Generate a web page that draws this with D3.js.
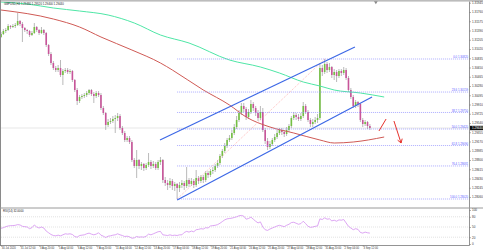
<!DOCTYPE html>
<html>
<head>
<meta charset="utf-8">
<script src="https://cdn.jsdelivr.net/npm/d3@7"></script>
<style>
  html, body { margin: 0; padding: 0; background: #fff; }
  svg { display: block; font-family: "Liberation Sans", Arial, sans-serif; }
</style>
</head>
<body>
<div id="chart"></div>
<script>
const symbol = 'GBPUSD,H4';

// H4 candles, one entry per bar
const opens = [
  1.3126, 1.3132, 1.3138, 1.3140, 1.3148, 1.3146, 1.3148, 1.3150, 1.3158, 1.3152,
  1.3144, 1.3140, 1.3138, 1.3130, 1.3134, 1.3146, 1.3140, 1.3134, 1.3140, 1.3134,
  1.3110, 1.3092, 1.3074, 1.3064, 1.3060, 1.3064, 1.3050, 1.3058, 1.3060, 1.3056,
  1.3058, 1.3040, 1.3020, 1.2998, 1.3006, 1.3008, 1.3010, 1.3014, 1.3020, 1.3012,
  1.3008, 1.3014, 1.3010, 1.2984, 1.2974, 1.2950, 1.2956, 1.2958, 1.2962, 1.2964,
  1.2968, 1.2944, 1.2934, 1.2920, 1.2924, 1.2916, 1.2880, 1.2868, 1.2880, 1.2868,
  1.2872, 1.2864, 1.2870, 1.2876, 1.2868, 1.2872, 1.2864, 1.2876, 1.2880, 1.2840,
  1.2834, 1.2830, 1.2838, 1.2828, 1.2832, 1.2824, 1.2830, 1.2834, 1.2828, 1.2840,
  1.2832, 1.2838, 1.2830, 1.2844, 1.2838, 1.2846, 1.2840, 1.2854, 1.2850, 1.2858,
  1.2860, 1.2868, 1.2874, 1.2888, 1.2898, 1.2908, 1.2920, 1.2924, 1.2934, 1.2946,
  1.2960, 1.2974, 1.2988, 1.2982, 1.2966, 1.2976, 1.2992, 1.2984, 1.2974, 1.2964,
  1.2976, 1.2940, 1.2918, 1.2906, 1.2912, 1.2920, 1.2926, 1.2934, 1.2940, 1.2936,
  1.2932, 1.2940, 1.2948, 1.2964, 1.2970, 1.2966, 1.2962, 1.2968, 1.2988, 1.2976,
  1.2960, 1.2952, 1.2956, 1.2960, 1.2964, 1.3064, 1.3056, 1.3072, 1.3060, 1.3066,
  1.3050, 1.3056, 1.3048, 1.3058, 1.3054, 1.3060, 1.3044, 1.3020, 1.3006, 1.2988,
  1.2996, 1.2992, 1.2960, 1.2952, 1.2956, 1.2948
];
const highs = [
  1.3136, 1.3142, 1.3144, 1.3152, 1.3150, 1.3152, 1.3154, 1.3174, 1.3160, 1.3156,
  1.3146, 1.3142, 1.3140, 1.3138, 1.3154, 1.3148, 1.3142, 1.3146, 1.3142, 1.3136,
  1.3112, 1.3096, 1.3078, 1.3068, 1.3070, 1.3080, 1.3062, 1.3064, 1.3064, 1.3062,
  1.3060, 1.3042, 1.3024, 1.3010, 1.3012, 1.3014, 1.3018, 1.3022, 1.3022, 1.3016,
  1.3018, 1.3018, 1.3014, 1.2988, 1.2976, 1.2962, 1.2964, 1.2968, 1.2970, 1.2974,
  1.2972, 1.2948, 1.2938, 1.2928, 1.2928, 1.2920, 1.2884, 1.2900, 1.2882, 1.2876,
  1.2874, 1.2874, 1.2894, 1.2880, 1.2878, 1.2876, 1.2880, 1.2886, 1.2882, 1.2846,
  1.2840, 1.2844, 1.2842, 1.2836, 1.2834, 1.2836, 1.2840, 1.2838, 1.2866, 1.2844,
  1.2844, 1.2842, 1.2860, 1.2848, 1.2850, 1.2850, 1.2858, 1.2858, 1.2862, 1.2866,
  1.2872, 1.2880, 1.2892, 1.2902, 1.2914, 1.2924, 1.2930, 1.2940, 1.2952, 1.2968,
  1.2980, 1.2994, 1.2994, 1.2986, 1.2982, 1.3000, 1.2996, 1.2988, 1.2980, 1.2988,
  1.2984, 1.2944, 1.2924, 1.2918, 1.2924, 1.2932, 1.2940, 1.2944, 1.2944, 1.2940,
  1.2946, 1.2952, 1.2968, 1.2976, 1.2974, 1.2972, 1.2974, 1.2996, 1.2992, 1.2980,
  1.2964, 1.2962, 1.2966, 1.2972, 1.3074, 1.3070, 1.3082, 1.3076, 1.3074, 1.3068,
  1.3062, 1.3060, 1.3062, 1.3062, 1.3066, 1.3064, 1.3048, 1.3024, 1.3010, 1.3000,
  1.2998, 1.2994, 1.2964, 1.2960, 1.2958, 1.2952
];
const lows = [
  1.3124, 1.3130, 1.3134, 1.3138, 1.3142, 1.3144, 1.3144, 1.3148, 1.3148, 1.3116,
  1.3136, 1.3132, 1.3126, 1.3128, 1.3132, 1.3136, 1.3130, 1.3132, 1.3130, 1.3106,
  1.3088, 1.3070, 1.3060, 1.3056, 1.3056, 1.3046, 1.3030, 1.3054, 1.3052, 1.3052,
  1.3036, 1.3016, 1.2990, 1.2994, 1.3002, 1.3004, 1.3006, 1.3010, 1.3008, 1.2994,
  1.3004, 1.3006, 1.2980, 1.2970, 1.2940, 1.2946, 1.2952, 1.2954, 1.2934, 1.2958,
  1.2940, 1.2930, 1.2916, 1.2916, 1.2912, 1.2876, 1.2864, 1.2844, 1.2862, 1.2860,
  1.2858, 1.2860, 1.2866, 1.2862, 1.2864, 1.2860, 1.2860, 1.2870, 1.2834, 1.2828,
  1.2820, 1.2824, 1.2820, 1.2818, 1.2802, 1.2816, 1.2824, 1.2820, 1.2824, 1.2826,
  1.2828, 1.2824, 1.2826, 1.2832, 1.2834, 1.2834, 1.2836, 1.2844, 1.2846, 1.2852,
  1.2856, 1.2864, 1.2870, 1.2884, 1.2894, 1.2904, 1.2916, 1.2920, 1.2930, 1.2942,
  1.2956, 1.2970, 1.2976, 1.2960, 1.2962, 1.2972, 1.2978, 1.2968, 1.2958, 1.2960,
  1.2936, 1.2912, 1.2900, 1.2902, 1.2908, 1.2916, 1.2922, 1.2930, 1.2930, 1.2926,
  1.2928, 1.2936, 1.2944, 1.2960, 1.2960, 1.2958, 1.2958, 1.2964, 1.2972, 1.2956,
  1.2946, 1.2946, 1.2952, 1.2954, 1.2960, 1.3048, 1.3052, 1.3054, 1.3056, 1.3044,
  1.3040, 1.3036, 1.3044, 1.3048, 1.3050, 1.3040, 1.3016, 1.3002, 1.2984, 1.2984,
  1.2986, 1.2956, 1.2946, 1.2948, 1.2942, 1.2940
];
const closes = [
  1.3132, 1.3138, 1.3140, 1.3148, 1.3146, 1.3148, 1.3150, 1.3158, 1.3152, 1.3144,
  1.3140, 1.3138, 1.3130, 1.3134, 1.3146, 1.3140, 1.3134, 1.3140, 1.3134, 1.3110,
  1.3092, 1.3074, 1.3064, 1.3060, 1.3064, 1.3050, 1.3058, 1.3060, 1.3056, 1.3058,
  1.3040, 1.3020, 1.2998, 1.3006, 1.3008, 1.3010, 1.3014, 1.3020, 1.3012, 1.3008,
  1.3014, 1.3010, 1.2984, 1.2974, 1.2950, 1.2956, 1.2958, 1.2962, 1.2964, 1.2968,
  1.2944, 1.2934, 1.2920, 1.2924, 1.2916, 1.2880, 1.2868, 1.2880, 1.2868, 1.2872,
  1.2864, 1.2870, 1.2876, 1.2868, 1.2872, 1.2864, 1.2876, 1.2880, 1.2840, 1.2834,
  1.2830, 1.2838, 1.2828, 1.2832, 1.2824, 1.2830, 1.2834, 1.2828, 1.2840, 1.2832,
  1.2838, 1.2830, 1.2844, 1.2838, 1.2846, 1.2840, 1.2854, 1.2850, 1.2858, 1.2860,
  1.2868, 1.2874, 1.2888, 1.2898, 1.2908, 1.2920, 1.2924, 1.2934, 1.2946, 1.2960,
  1.2974, 1.2988, 1.2982, 1.2966, 1.2976, 1.2992, 1.2984, 1.2974, 1.2964, 1.2976,
  1.2940, 1.2918, 1.2906, 1.2912, 1.2920, 1.2926, 1.2934, 1.2940, 1.2936, 1.2932,
  1.2940, 1.2948, 1.2964, 1.2970, 1.2966, 1.2962, 1.2968, 1.2988, 1.2976, 1.2960,
  1.2952, 1.2956, 1.2960, 1.2964, 1.3064, 1.3056, 1.3072, 1.3060, 1.3066, 1.3050,
  1.3056, 1.3048, 1.3058, 1.3054, 1.3060, 1.3044, 1.3020, 1.3006, 1.2988, 1.2996,
  1.2992, 1.2960, 1.2952, 1.2956, 1.2948, 1.2944
];

// RSI(14), one value per bar
const rsi = [
  46, 48, 51, 53, 54, 54, 55, 57, 56, 52,
  51, 50, 45, 48, 56, 50, 47, 50, 47, 38,
  33, 28, 25, 24, 26, 24, 27, 30, 29, 30,
  28, 22, 20, 25, 26, 27, 30, 32, 29, 27,
  29, 33, 26, 23, 19, 23, 24, 26, 27, 30,
  27, 25, 22, 23, 21, 17, 18, 22, 20, 21,
  20, 23, 29, 27, 30, 33, 36, 37, 27, 26,
  25, 27, 25, 26, 25, 27, 27, 34, 37, 35,
  38, 36, 42, 43, 45, 44, 48, 47, 53, 54,
  55, 57, 61, 66, 71, 74, 75, 76, 78, 80,
  83, 84, 82, 73, 75, 79, 73, 67, 62, 65,
  50, 42, 40, 44, 47, 50, 53, 55, 53, 51,
  55, 58, 63, 64, 61, 58, 60, 67, 60, 52,
  49, 50, 52, 53, 74, 72, 77, 73, 74, 68,
  70, 67, 71, 70, 72, 62, 52, 47, 42, 45,
  43, 34, 32, 35, 33, 32
];

// moving averages (bar index, value), drawn shifted past the last bar
const ma200Bars = [0, 11, 22, 33, 45, 56, 67, 79, 96, 109, 117, 127, 134, 140, 151, 161];
const ma200 = [1.3196, 1.3192, 1.3184, 1.3178, 1.3170, 1.3154, 1.3130, 1.3114, 1.3080, 1.3066, 1.3054, 1.3036, 1.3028, 1.3020, 1.3014, 1.3006];
const ma100Bars = [0, 22, 33, 42, 55, 67, 72, 85, 96, 103, 113, 123, 134, 140, 148, 161];
const ma100 = [1.3180, 1.3162, 1.3146, 1.3126, 1.3100, 1.3074, 1.3060, 1.3020, 1.2990, 1.2966, 1.2946, 1.2934, 1.2920, 1.2914, 1.2916, 1.2926];

// drawn objects
const channelUpper = [[66.8, 1.2920], [148.7, 1.3106]];
const channelLower = [[74, 1.2800], [155.9, 1.3006]];
const fibLowBar = 74, fibLow = 1.2802;
const fibHighBar = 136, fibHigh = 1.3082;
const fibRatios = [0, 23.6, 38.2, 50, 61.8, 76.4, 100];
const arrowUp = [[158.8, 1.2938], [161.8, 1.2962]];
const arrowDown = [[165.1, 1.2958], [168.1, 1.2914]];

// axis labels
const priceTicks = [1.31945, 1.31760, 1.31575, 1.31390, 1.31205, 1.31020, 1.30835, 1.30650,
  1.30465, 1.30280, 1.30095, 1.29910, 1.29725, 1.29540, 1.29355, 1.29170, 1.28985, 1.28800,
  1.28615, 1.28430, 1.28245, 1.28060];
const rsiTicks = [100, 80, 50, 20, 0];
const rsiLevels = [80, 50, 20];
const timeLabels = ['30 Jul 2020', '31 Jul 12:00', '3 Aug 20:00', '5 Aug 04:00', '6 Aug 12:00',
  '7 Aug 20:00', '11 Aug 04:00', '12 Aug 12:00', '13 Aug 20:00', '17 Aug 04:00', '18 Aug 12:00',
  '19 Aug 20:00', '21 Aug 04:00', '24 Aug 12:00', '25 Aug 20:00', '27 Aug 04:00', '28 Aug 12:00',
  '31 Aug 20:00', '2 Sep 04:00', '3 Sep 12:00'];
const barsPerLabel = 8;

// ---- layout
const W = 483, H = 252;
const plotL = 1, plotR = 469.5;
const mainTop = 1.6, mainBottom = 207.5;
const rsiTop = 208.6, rsiBottom = 245.5;
const barStep = 2.38;

const x = d3.scaleLinear().domain([0, (plotR - plotL) / barStep]).range([plotL, plotR]);
const y = d3.scaleLinear().domain([1.2785, 1.3200]).range([mainBottom, 0]);
const yR = d3.scaleLinear().domain([0, 100]).range([244, 210]);

const svg = d3.select('#chart').append('svg')
  .attr('width', W)
  .attr('height', H);

svg.append('rect').attr('width', W).attr('height', H).attr('fill', '#fff');

const defs = svg.append('defs');
defs.append('clipPath').attr('id', 'clipMain').append('rect')
  .attr('x', plotL).attr('y', mainTop).attr('width', plotR - plotL).attr('height', mainBottom - mainTop);
defs.append('clipPath').attr('id', 'clipRsi').append('rect')
  .attr('x', plotL).attr('y', rsiTop).attr('width', plotR - plotL).attr('height', rsiBottom - rsiTop);

const main = svg.append('g').attr('clip-path', 'url(#clipMain)');

// current bid line
const last = closes.length - 1;
main.append('line')
  .attr('x1', plotL).attr('x2', plotR)
  .attr('y1', y(closes[last])).attr('y2', y(closes[last]))
  .attr('stroke', '#d6d6d6').attr('stroke-width', 0.6);

// candles
const bars = main.append('g').selectAll('g')
  .data(closes.map((c, i) => ({ i, o: opens[i], h: highs[i], l: lows[i], c })))
  .enter().append('g');

bars.append('line')
  .attr('x1', d => x(d.i)).attr('x2', d => x(d.i))
  .attr('y1', d => y(d.h)).attr('y2', d => y(d.l))
  .attr('stroke', '#8c8c8c').attr('stroke-width', 0.6);

bars.append('rect')
  .attr('x', d => x(d.i) - 0.8)
  .attr('width', 1.6)
  .attr('y', d => y(Math.max(d.o, d.c)))
  .attr('height', d => Math.max(0.6, Math.abs(y(d.o) - y(d.c))))
  .attr('fill', d => d.c >= d.o ? '#74c043' : '#c8559a');

// moving averages
const maLine = d3.line().x(d => x(d[0])).y(d => y(d[1])).curve(d3.curveMonotoneX);
main.append('path')
  .attr('d', maLine(ma200Bars.map((b, k) => [b, ma200[k]])))
  .attr('fill', 'none').attr('stroke', '#4fe6a6').attr('stroke-width', 1);
main.append('path')
  .attr('d', maLine(ma100Bars.map((b, k) => [b, ma100[k]])))
  .attr('fill', 'none').attr('stroke', '#cf5a55').attr('stroke-width', 1);

// fibonacci retracement
main.append('line')
  .attr('x1', x(fibLowBar)).attr('y1', y(fibLow))
  .attr('x2', x(fibHighBar)).attr('y2', y(fibHigh))
  .attr('stroke', '#ff9c9c').attr('stroke-width', 0.7).attr('stroke-dasharray', '1,1.2');

const fib = main.append('g').selectAll('g')
  .data(fibRatios.map(r => ({ r, p: fibHigh - r / 100 * (fibHigh - fibLow) })))
  .enter().append('g');

fib.append('line')
  .attr('x1', x(fibLowBar)).attr('x2', plotR)
  .attr('y1', d => y(d.p)).attr('y2', d => y(d.p))
  .attr('stroke', '#8a8aff').attr('stroke-width', 0.7).attr('stroke-dasharray', '1,1');

fib.append('text')
  .attr('x', plotR - 1.5)
  .attr('y', d => y(d.p) - 0.6)
  .attr('text-anchor', 'end')
  .attr('font-size', '2.8px')
  .attr('fill', '#5a5aff')
  .text(d => d.r.toFixed(1) + ' ' + d.p.toFixed(5));

// channel
[channelUpper, channelLower].forEach(seg => {
  main.append('line')
    .attr('x1', x(seg[0][0])).attr('y1', y(seg[0][1]))
    .attr('x2', x(seg[1][0])).attr('y2', y(seg[1][1]))
    .attr('stroke', '#3d68e6').attr('stroke-width', 1.2);
});

// red arrows
const red = '#e6322c';
main.append('line')
  .attr('x1', x(arrowUp[0][0])).attr('y1', y(arrowUp[0][1]))
  .attr('x2', x(arrowUp[1][0])).attr('y2', y(arrowUp[1][1]))
  .attr('stroke', red).attr('stroke-width', 1);
{
  const x1 = x(arrowDown[0][0]), y1 = y(arrowDown[0][1]);
  const x2 = x(arrowDown[1][0]), y2 = y(arrowDown[1][1]);
  main.append('line')
    .attr('x1', x1).attr('y1', y1).attr('x2', x2).attr('y2', y2)
    .attr('stroke', red).attr('stroke-width', 1);
  const a = Math.atan2(y2 - y1, x2 - x1);
  const len = 4.5;
  [a + Math.PI * 0.82, a - Math.PI * 0.82].forEach(t => {
    main.append('line')
      .attr('x1', x2).attr('y1', y2)
      .attr('x2', x2 + len * Math.cos(t)).attr('y2', y2 + len * Math.sin(t))
      .attr('stroke', red).attr('stroke-width', 1);
  });
}

// ---- RSI panel
svg.append('g').selectAll('line')
  .data(rsiLevels)
  .enter().append('line')
  .attr('x1', plotL).attr('x2', plotR)
  .attr('y1', d => yR(d)).attr('y2', d => yR(d))
  .attr('stroke', '#c4c4c4').attr('stroke-width', 0.5).attr('stroke-dasharray', '1,1');

svg.append('g').attr('clip-path', 'url(#clipRsi)')
  .append('path')
  .attr('d', d3.line().x((d, i) => x(i)).y(d => yR(d))(rsi))
  .attr('fill', 'none').attr('stroke', '#d48ff0').attr('stroke-width', 0.8);

// ---- frames
svg.append('rect').attr('x', 0).attr('y', 0).attr('width', W).attr('height', mainTop).attr('fill', '#bcbcbc');
const frame = svg.append('g').attr('stroke', '#8a8a8a').attr('fill', 'none');
frame.append('line').attr('x1', 0.5).attr('x2', 0.5).attr('y1', 0).attr('y2', rsiBottom);
frame.append('line').attr('x1', plotR).attr('x2', plotR).attr('y1', mainTop).attr('y2', rsiBottom).attr('stroke', '#666').attr('stroke-width', 0.7);
frame.append('line').attr('x1', 0).attr('x2', W).attr('y1', mainBottom + 0.5).attr('y2', mainBottom + 0.5).attr('stroke', '#9a9a9a').attr('stroke-width', 1);
frame.append('line').attr('x1', 0).attr('x2', plotR).attr('y1', rsiBottom).attr('y2', rsiBottom).attr('stroke', '#666').attr('stroke-width', 0.7);

// chart shift marker
svg.append('path')
  .attr('d', d3.symbol(d3.symbolTriangle, 6)())
  .attr('transform', `translate(${x(157.5)},${mainTop + 0.6}) rotate(180)`)
  .attr('fill', '#8a8a8a');

// ---- axes
function styleAxis(g) {
  g.select('.domain').remove();
  g.selectAll('line').attr('stroke', '#666').attr('stroke-width', 0.5);
  g.selectAll('text').attr('font-size', '3px').attr('fill', '#333').attr('font-family', '"Liberation Sans", Arial, sans-serif');
}

svg.append('g')
  .attr('transform', `translate(${plotR},0)`)
  .call(d3.axisRight(y).tickValues(priceTicks).tickSize(1.5).tickPadding(1).tickFormat(d3.format('.5f')))
  .call(styleAxis);

svg.append('g')
  .attr('transform', `translate(${plotR},0)`)
  .call(d3.axisRight(yR).tickValues(rsiTicks).tickSize(1.5).tickPadding(1))
  .call(styleAxis);

svg.append('g')
  .attr('transform', `translate(0,${rsiBottom})`)
  .call(d3.axisBottom(x)
    .tickValues(timeLabels.map((_, k) => k * barsPerLabel))
    .tickSize(1.2).tickPadding(0.6)
    .tickFormat((d, k) => timeLabels[k]))
  .call(styleAxis)
  .call(g => g.selectAll('text').attr('text-anchor', 'start').attr('font-size', '2.7px').attr('dx', '0.3px'));

// current price tag
const tagY = y(closes[last]);
svg.append('rect')
  .attr('x', plotR + 0.5).attr('y', tagY - 2.2)
  .attr('width', W - plotR - 0.5).attr('height', 4.4)
  .attr('fill', '#111');
svg.append('text')
  .attr('x', plotR + 2.5).attr('y', tagY + 1.1)
  .attr('font-size', '3px').attr('fill', '#fff')
  .text(closes[last].toFixed(5));

// ---- headers
svg.append('text')
  .attr('x', 4).attr('y', 4.6)
  .attr('font-size', '2.8px').attr('fill', '#222')
  .text(symbol + '  ' + [opens[last], highs[last], lows[last], closes[last]].map(v => v.toFixed(5)).join(' '));

svg.append('text')
  .attr('x', 3).attr('y', rsiTop + 3)
  .attr('font-size', '2.8px').attr('fill', '#222')
  .text('RSI(14) ' + rsi[last].toFixed(4));
</script>
</body>
</html>
